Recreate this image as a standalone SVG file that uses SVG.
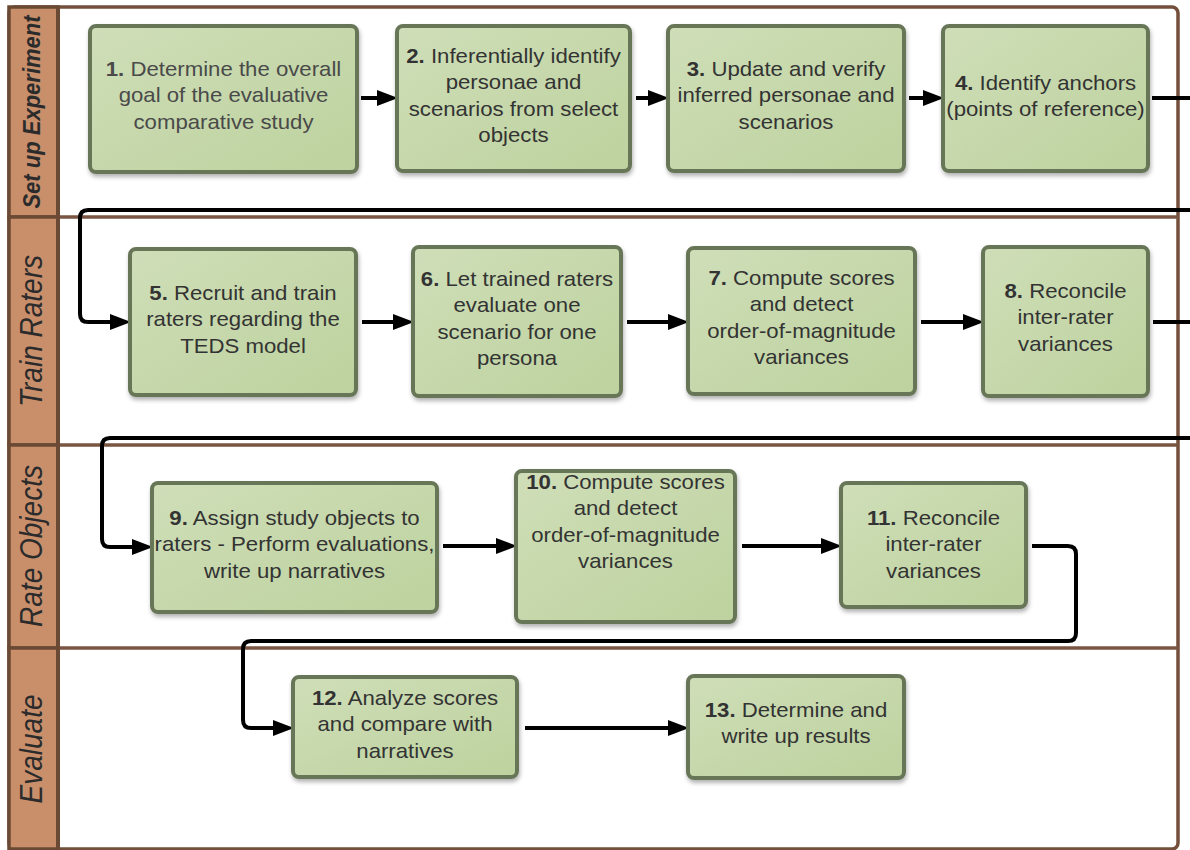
<svg xmlns="http://www.w3.org/2000/svg" width="1190" height="850" viewBox="0 0 1190 850">
<style>
.frame{fill:#fff;stroke:#74503c;stroke-width:3.5}
.cell{fill:#c98f6b;stroke:#6b4a35;stroke-width:3.5}
.sep{stroke:#7a5541;stroke-width:3.5}
.lane{font-family:"Liberation Sans",Arial,sans-serif;font-style:italic;font-size:28px;fill:#2b2b2b;text-anchor:middle}
.node rect{fill:url(#g);stroke:#687658;stroke-width:4;filter:url(#sh)}
.t{font-family:"Liberation Sans",Arial,sans-serif;font-size:20px;fill:#333;text-anchor:middle}
.t tspan.b{font-weight:bold}
.c{fill:none;stroke:#000;stroke-width:4;marker-end:url(#ah)}
</style>
<defs>
<linearGradient id="g" x1="0" y1="0" x2="1" y2="1">
<stop offset="0" stop-color="#cfdeb8"/>
<stop offset="1" stop-color="#bdd29e"/>
</linearGradient>
<filter id="sh" x="-10%" y="-10%" width="120%" height="130%">
<feDropShadow dx="1" dy="3" stdDeviation="2" flood-color="#000" flood-opacity="0.3"/>
</filter>
<marker id="ah" markerUnits="userSpaceOnUse" viewBox="0 0 21 16" markerWidth="21" markerHeight="16" refX="10" refY="8" orient="auto">
<path d="M0,0 L21,8 L0,16 z" fill="#000"/>
</marker>
</defs>

<g id="pool">
<rect class="frame" x="9" y="7" width="1169" height="842" rx="6"/>
<rect class="cell" x="9" y="7" width="49" height="210"/>
<rect class="cell" x="9" y="217" width="49" height="228"/>
<rect class="cell" x="9" y="445" width="49" height="203"/>
<rect class="cell" x="9" y="648" width="49" height="201"/>
<line class="sep" x1="58" y1="217" x2="1178" y2="217"/>
<line class="sep" x1="58" y1="445" x2="1178" y2="445"/>
<line class="sep" x1="58" y1="648" x2="1178" y2="648"/>
<line x1="58" y1="7" x2="58" y2="849" stroke="#6b4a35" stroke-width="4"/>
<text class="lane" transform="translate(40,112) scale(1.11,1) rotate(-90)" style="font-size:22px;font-weight:bold">Set up Experiment</text>
<text class="lane" transform="translate(42,331) scale(1.11,1) rotate(-90)">Train Raters</text>
<text class="lane" transform="translate(42,546) scale(1.11,1) rotate(-90)">Rate Objects</text>
<text class="lane" transform="translate(42,749) scale(1.11,1) rotate(-90)">Evaluate</text>
</g>

<g id="connectors">
<path class="c" d="M361,98 H387"/>
<path class="c" d="M636,98 H658"/>
<path class="c" d="M909,98 H933"/>
<path class="c" d="M1152,98 H1200 V210 H88 Q80,210 80,218 V314 Q80,322 88,322 H120"/>
<path class="c" d="M362,322 H403"/>
<path class="c" d="M627,322 H678"/>
<path class="c" d="M921,322 H973"/>
<path class="c" d="M1153,322 H1200 V438 H110 Q102,438 102,446 V539 Q102,547 110,547 H142"/>
<path class="c" d="M443,546 H506"/>
<path class="c" d="M742,546 H831"/>
<path class="c" d="M1032,546 H1068 Q1076,546 1076,554 V633 Q1076,641 1068,641 H251 Q243,641 243,649 V720 Q243,728 251,728 H283"/>
<path class="c" d="M525,728 H678"/>
</g>

<g id="n1" class="node">
<rect x="90" y="26" width="267" height="146" rx="6"/>
<text class="t" transform="translate(223.5,0) scale(1.11,1)" style="fill:#4a4a4a"><tspan x="0" y="76"><tspan class="b">1.</tspan> Determine the overall</tspan><tspan x="0" y="102.5">goal of the evaluative</tspan><tspan x="0" y="129">comparative study</tspan></text>
</g>
<g id="n2" class="node">
<rect x="397" y="26" width="233" height="145" rx="6"/>
<text class="t" transform="translate(513.5,0) scale(1.11,1)"><tspan x="0" y="63"><tspan class="b">2.</tspan> Inferentially identify</tspan><tspan x="0" y="89.5">personae and</tspan><tspan x="0" y="116">scenarios from select</tspan><tspan x="0" y="142.5">objects</tspan></text>
</g>
<g id="n3" class="node">
<rect x="668" y="26" width="236" height="145" rx="6"/>
<text class="t" transform="translate(786,0) scale(1.11,1)"><tspan x="0" y="76"><tspan class="b">3.</tspan> Update and verify</tspan><tspan x="0" y="102.5">inferred personae and</tspan><tspan x="0" y="129">scenarios</tspan></text>
</g>
<g id="n4" class="node">
<rect x="943" y="26" width="205" height="145" rx="6"/>
<text class="t" transform="translate(1045.5,0) scale(1.11,1)"><tspan x="0" y="90"><tspan class="b">4.</tspan> Identify anchors</tspan><tspan x="0" y="116.5">(points of reference)</tspan></text>
</g>
<g id="n5" class="node">
<rect x="130" y="249" width="226" height="146" rx="6"/>
<text class="t" transform="translate(243,0) scale(1.11,1)"><tspan x="0" y="300"><tspan class="b">5.</tspan> Recruit and train</tspan><tspan x="0" y="326.5">raters regarding the</tspan><tspan x="0" y="353">TEDS model</tspan></text>
</g>
<g id="n6" class="node">
<rect x="413" y="247" width="208" height="149" rx="6"/>
<text class="t" transform="translate(517,0) scale(1.11,1)"><tspan x="0" y="286"><tspan class="b">6.</tspan> Let trained raters</tspan><tspan x="0" y="312.5">evaluate one</tspan><tspan x="0" y="339">scenario for one</tspan><tspan x="0" y="365.5">persona</tspan></text>
</g>
<g id="n7" class="node">
<rect x="688" y="248" width="227" height="146" rx="6"/>
<text class="t" transform="translate(801.5,0) scale(1.11,1)"><tspan x="0" y="285"><tspan class="b">7.</tspan> Compute scores</tspan><tspan x="0" y="311.5">and detect</tspan><tspan x="0" y="338">order-of-magnitude</tspan><tspan x="0" y="364.5">variances</tspan></text>
</g>
<g id="n8" class="node">
<rect x="983" y="247" width="165" height="149" rx="6"/>
<text class="t" transform="translate(1065.5,0) scale(1.11,1)"><tspan x="0" y="298"><tspan class="b">8.</tspan> Reconcile</tspan><tspan x="0" y="324.5">inter-rater</tspan><tspan x="0" y="351">variances</tspan></text>
</g>
<g id="n9" class="node">
<rect x="152" y="483" width="285" height="129" rx="6"/>
<text class="t" transform="translate(294.5,0) scale(1.11,1)"><tspan x="0" y="525"><tspan class="b">9.</tspan> Assign study objects to</tspan><tspan x="0" y="551.5">raters - Perform evaluations,</tspan><tspan x="0" y="578">write up narratives</tspan></text>
</g>
<g id="n10" class="node">
<rect x="516" y="471" width="219" height="151" rx="6"/>
<text class="t" transform="translate(625.5,0) scale(1.11,1)"><tspan x="0" y="489"><tspan class="b">10.</tspan> Compute scores</tspan><tspan x="0" y="515.5">and detect</tspan><tspan x="0" y="542">order-of-magnitude</tspan><tspan x="0" y="568.5">variances</tspan></text>
</g>
<g id="n11" class="node">
<rect x="841" y="483" width="185" height="124" rx="6"/>
<text class="t" transform="translate(933.5,0) scale(1.11,1)"><tspan x="0" y="525"><tspan class="b">11.</tspan> Reconcile</tspan><tspan x="0" y="551.5">inter-rater</tspan><tspan x="0" y="578">variances</tspan></text>
</g>
<g id="n12" class="node">
<rect x="293" y="677" width="224" height="100" rx="6"/>
<text class="t" transform="translate(405,0) scale(1.11,1)"><tspan x="0" y="705"><tspan class="b">12.</tspan> Analyze scores</tspan><tspan x="0" y="731.5">and compare with</tspan><tspan x="0" y="758">narratives</tspan></text>
</g>
<g id="n13" class="node">
<rect x="688" y="676" width="216" height="102" rx="6"/>
<text class="t" transform="translate(796,0) scale(1.11,1)"><tspan x="0" y="717"><tspan class="b">13.</tspan> Determine and</tspan><tspan x="0" y="743.5">write up results</tspan></text>
</g>
</svg>
